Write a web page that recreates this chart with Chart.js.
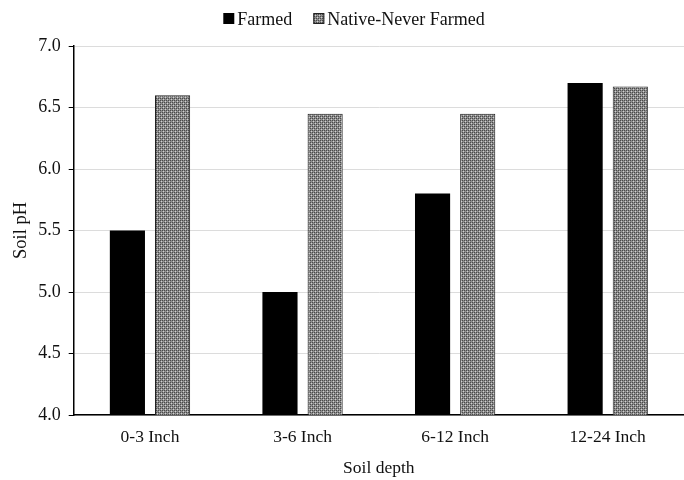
<!DOCTYPE html>
<html>
<head>
<meta charset="utf-8">
<script src="https://cdn.jsdelivr.net/npm/chart.js@4"></script>
<style>
  html, body { margin: 0; padding: 0; background: #fff; }
  #wrap { width: 684px; height: 480px; }
</style>
</head>
<body>
<div id="wrap"><canvas id="phChart" width="684" height="480"></canvas></div>
<script>
const depths = ["0-3 Inch", "3-6 Inch", "6-12 Inch", "12-24 Inch"];
const farmedPH = [5.5, 5.0, 5.8, 6.7];
const nativePH = [6.6, 6.45, 6.45, 6.67];

// little grey checker pattern for the native bars
function makePattern() {
  const c = document.createElement("canvas");
  c.width = 4; c.height = 4;
  const g = c.getContext("2d");
  g.fillStyle = "#8c8c8c";
  g.fillRect(0, 0, 4, 4);
  g.fillStyle = "#4a4a4a";
  g.fillRect(0, 0, 1, 1); g.fillRect(2, 2, 1, 1);
  g.fillRect(2, 0, 1, 1); g.fillRect(0, 2, 1, 1);
  g.fillStyle = "#d0d0d0";
  g.fillRect(1, 1, 1, 1); g.fillRect(3, 3, 1, 1);
  return g.createPattern(c, "repeat");
}

const serif = "'Liberation Serif', 'Times New Roman', serif";
Chart.defaults.font.family = serif;
Chart.defaults.color = "#111";

// legend drawn by hand so the box/text spacing matches the original
const topLegend = {
  id: "topLegend",
  afterDraw(chart) {
    const c = chart.ctx;
    const box = 11, gapText = 3, gapItem = 21, y = 25;
    c.save();
    c.font = "18px " + serif;
    c.textBaseline = "alphabetic";
    const sets = chart.data.datasets;
    let total = 0;
    sets.forEach((ds, i) => {
      total += box + gapText + c.measureText(ds.label).width + (i ? gapItem : 0);
    });
    let x = 354 - total / 2;
    sets.forEach((ds, i) => {
      if (i) x += gapItem;
      c.fillStyle = ds.backgroundColor;
      c.fillRect(x, y - 12, box, box);
      if (ds.borderWidth) {
        c.strokeStyle = ds.borderColor;
        c.lineWidth = 1;
        c.strokeRect(x + 0.5, y - 11.5, box - 1, box - 1);
      }
      x += box + gapText;
      c.fillStyle = "#111";
      c.fillText(ds.label, x, y);
      x += c.measureText(ds.label).width;
    });
    c.restore();
  }
};

const ctx = document.getElementById("phChart").getContext("2d");
new Chart(ctx, {
  type: "bar",
  data: {
    labels: depths,
    datasets: [{
      label: "Farmed",
      data: farmedPH,
      backgroundColor: "#000",
      borderColor: "#000",
      borderWidth: 0,
      barPercentage: 0.778,
      categoryPercentage: 0.592
    }, {
      label: "Native-Never Farmed",
      data: nativePH,
      backgroundColor: makePattern(),
      borderColor: "#222",
      borderWidth: 1,
      barPercentage: 0.778,
      categoryPercentage: 0.592
    }]
  },
  options: {
    responsive: false,
    animation: false,
    layout: { padding: { top: 46, right: 0, left: 8, bottom: 1 } },
    plugins: {
      legend: { display: false },
      tooltip: { enabled: false }
    },
    scales: {
      x: {
        grid: { display: false, drawTicks: false },
        border: { color: "#000", width: 1.5 },
        ticks: { font: { size: 17.5 }, padding: 12 },
        title: { display: true, text: "Soil depth", font: { size: 17.5 }, padding: { top: -2, bottom: 0 } }
      },
      y: {
        min: 4.0,
        max: 7.0,
        grid: { color: "#dcdcdc", tickLength: 5, tickColor: "#000" },
        border: { color: "#000", width: 1.5 },
        ticks: {
          stepSize: 0.5,
          font: { size: 18 },
          padding: 8,
          callback: v => v.toFixed(1)
        },
        title: { display: true, text: "Soil pH", font: { size: 18.5 }, padding: { top: 2, bottom: -2 } }
      }
    }
  },
  plugins: [topLegend]
});
</script>
</body>
</html>
